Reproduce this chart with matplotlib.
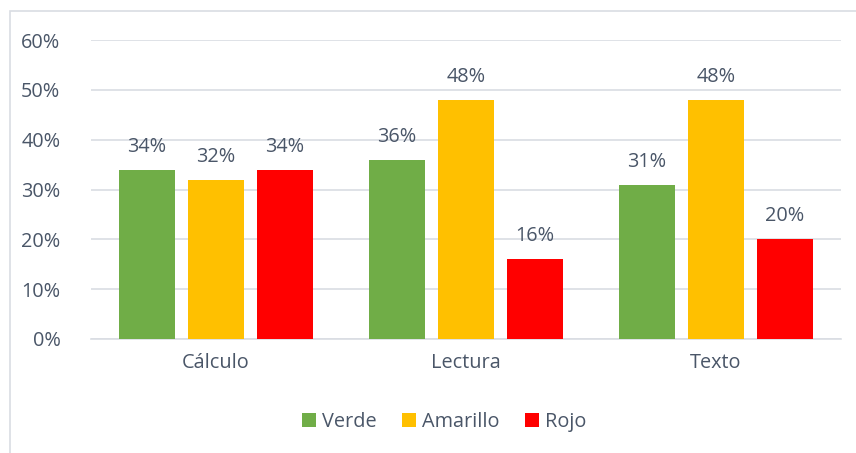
import matplotlib.pyplot as plt
from matplotlib.patches import Rectangle
import numpy as np

categorias = ['Cálculo', 'Lectura', 'Texto']
verde = [34, 36, 31]
amarillo = [32, 48, 48]
rojo = [34, 16, 20]
series = ['Verde', 'Amarillo', 'Rojo']
colores = ['#70AD47', '#FFC000', '#FF0000']

txt = '#4A5668'
plt.rcParams['font.family'] = ['Open Sans', 'DejaVu Sans']
fs = 14.3

fig = plt.figure(figsize=(8.56, 4.53), dpi=100)
W, H = 856, 453
# marco del grafico (recortado a la derecha y abajo)
fig.patches.append(Rectangle((10 / W, -0.1), 1.1, 1 - 11 / H + 0.1, transform=fig.transFigure,
                             fill=False, edgecolor='#D9DDE3', linewidth=1.2))

ax = fig.add_axes([91 / W, 1 - 339 / H, 750 / W, 299 / H])
x = np.arange(len(categorias))
ancho = 0.224
paso = 0.276
for i, (vals, nombre, c) in enumerate(zip([verde, amarillo, rojo], series, colores)):
    pos = x + (i - 1) * paso
    ax.bar(pos, vals, width=ancho, color=c, label=nombre, zorder=3)
    for p, v in zip(pos, vals):
        ax.text(p, v + 2.6, f'{v}%', ha='center', va='bottom', fontsize=fs, color=txt)

ax.set_xlim(-0.5, 2.5)
ax.set_ylim(0, 60)
ax.set_yticks(range(0, 61, 10))
ax.set_yticklabels([f'{v}%' for v in range(0, 61, 10)])
ax.set_xticks(x)
ax.set_xticklabels(categorias)
ax.grid(axis='y', color='#D9DDE3', linewidth=1.2, zorder=0)
for s in ['top', 'right', 'left']:
    ax.spines[s].set_visible(False)
ax.spines['bottom'].set_color('#D9DDE3')
ax.spines['bottom'].set_linewidth(1.2)
ax.tick_params(axis='both', length=0, labelsize=fs, colors=txt)
ax.tick_params(axis='y', pad=22)
ax.tick_params(axis='x', pad=10)

fig.legend(loc='center', bbox_to_anchor=(444 / W, 1 - 422 / H), ncol=3, frameon=False,
           fontsize=fs, labelcolor=txt, handlelength=0.7, handleheight=0.7,
           handletextpad=0.3, columnspacing=1.3)

fig.savefig('out.png', dpi=100)
